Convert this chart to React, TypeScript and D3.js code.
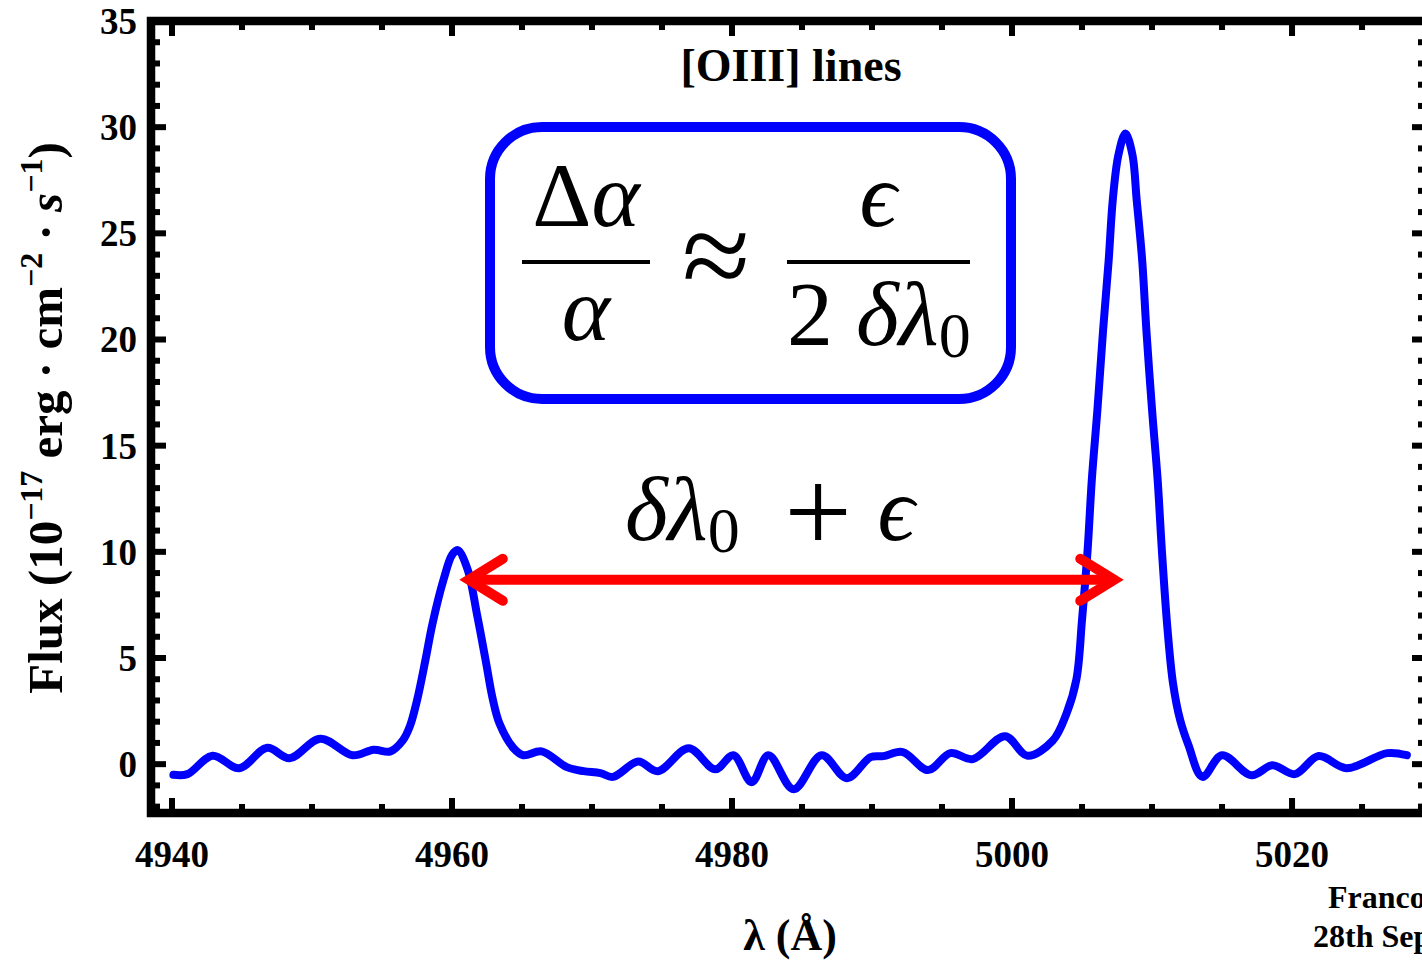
import React from 'react';
import * as d3 from 'd3';

// ---------- data ----------
const wavelength = [
  4940.1, 4941.1, 4942.9, 4944.8, 4946.8, 4948.4, 4950.6, 4952.9, 4954.4, 4955.6,
  4956.5, 4957.0, 4957.5, 4958.1, 4958.6, 4959.4, 4960.0, 4960.4, 4961.1, 4961.8,
  4962.4, 4962.9, 4963.4, 4964.4, 4965.1, 4966.4, 4968.2, 4969.4, 4970.6, 4971.5,
  4973.3, 4974.7, 4976.9, 4978.8, 4980.1, 4981.4, 4982.6, 4984.4, 4986.4, 4988.2,
  4989.9, 4990.8, 4992.2, 4994.0, 4995.6, 4997.2, 4999.5, 5001.1, 5002.9, 5003.9,
  5004.6, 5005.0, 5005.4, 5005.7, 5006.1, 5006.5, 5006.9, 5007.2, 5007.6, 5008.1,
  5008.6, 5008.9, 5009.3, 5009.6, 5010.0, 5010.4, 5010.7, 5011.1, 5011.5, 5012.0,
  5012.6, 5013.6, 5015.0, 5017.1, 5018.6, 5020.2, 5021.9, 5023.9, 5026.8, 5028.2,
];
const flux = [
  -0.5, -0.47, 0.4, -0.19, 0.77, 0.28, 1.2, 0.42, 0.68, 0.6,
  1.13, 1.8, 3.0, 4.9, 6.6, 8.7, 9.85, 10.08, 9.2, 7.0,
  4.9, 3.1, 1.9, 0.75, 0.42, 0.6, -0.14, -0.33, -0.42, -0.6,
  0.12, -0.33, 0.75, -0.24, 0.42, -0.85, 0.42, -1.18, 0.42, -0.66,
  0.33, 0.38, 0.57, -0.28, 0.52, 0.24, 1.32, 0.4, 1.1, 2.4,
  4.0, 6.8, 10.1, 13.4, 16.7, 20.4, 23.7, 26.6, 28.7, 29.7,
  28.7, 26.6, 23.7, 20.4, 16.7, 13.4, 10.1, 6.4, 3.8, 2.1,
  0.9, -0.6, 0.42, -0.52, -0.05, -0.47, 0.38, -0.19, 0.52, 0.42,
];
const xMajorTicks = [4940, 4960, 4980, 5000, 5020];
const xMinorTicks = [4945, 4950, 4955, 4965, 4970, 4975, 4985, 4990, 4995, 5005, 5010, 5015, 5025];
const yMajorTicks = [0, 5, 10, 15, 20, 25, 30, 35];
const yMinorTicks = [-2, -1, 1, 2, 3, 4, 6, 7, 8, 9, 11, 12, 13, 14, 16, 17, 18, 19, 21, 22, 23, 24, 26, 27, 28, 29, 31, 32, 33, 34];
const xDomain = [4938.5, 5029.64];
const yDomain = [-2.3, 35];
const arrowFrom = 4961.2;
const arrowTo = 5007.3;
const arrowLevel = 8.68;
const titleText = '[OIII] lines';
const footerLines = ['Franco', '28th Sep'];

// ---------- layout ----------
const W = 1422;
const H = 963;
const L = 151, R = 1427, T = 21, B = 813;
const SERIF = "'Liberation Serif', 'Times New Roman', serif";

export default function App() {
  const x = d3.scaleLinear().domain(xDomain).range([L, R]);
  const y = d3.scaleLinear().domain(yDomain).range([B, T]);
  const pts: [number, number][] = wavelength.map((w, i) => [w, flux[i]]);
  const line = d3
    .line<[number, number]>()
    .x((d) => x(d[0]))
    .y((d) => y(d[1]))
    .curve(d3.curveCatmullRom.alpha(0.5));

  const tickW = 6;
  const majLen = 15;
  const minLen = 9;

  const ax1 = x(arrowFrom);
  const ax2 = x(arrowTo);
  const ay = y(arrowLevel);
  const bdx = 34;
  const bdy = 21;

  return (
    <svg
      width={W}
      height={H}
      style={{ position: 'absolute', left: 0, top: 0, background: '#fff' }}
      fontFamily={SERIF}
    >
      <rect x={0} y={0} width={W} height={H} fill="#fff" />

      {/* curve */}
      <path d={line(pts) || ''} fill="none" stroke="#0000ff" strokeWidth={8} strokeLinejoin="round" strokeLinecap="round" />

      {/* frame */}
      <rect x={L} y={T} width={R - L} height={B - T} fill="none" stroke="#000" strokeWidth={8.5} />

      {/* ticks */}
      <g stroke="#000" strokeWidth={tickW}>
        {xMajorTicks.map((v) => (
          <g key={'xM' + v}>
            <line x1={x(v)} x2={x(v)} y1={B} y2={B - majLen} />
            <line x1={x(v)} x2={x(v)} y1={T} y2={T + majLen} />
          </g>
        ))}
        {xMinorTicks.map((v) => (
          <g key={'xm' + v}>
            <line x1={x(v)} x2={x(v)} y1={B} y2={B - minLen} />
            <line x1={x(v)} x2={x(v)} y1={T} y2={T + minLen} />
          </g>
        ))}
        {yMajorTicks.map((v) => (
          <g key={'yM' + v}>
            <line x1={L} x2={L + majLen} y1={y(v)} y2={y(v)} />
            <line x1={R} x2={R - majLen} y1={y(v)} y2={y(v)} />
          </g>
        ))}
        {yMinorTicks.map((v) => (
          <g key={'ym' + v}>
            <line x1={L} x2={L + minLen} y1={y(v)} y2={y(v)} />
            <line x1={R} x2={R - minLen} y1={y(v)} y2={y(v)} />
          </g>
        ))}
      </g>

      {/* tick labels */}
      <g fontWeight="bold" fontSize={37} fill="#000">
        {xMajorTicks.map((v) => (
          <text key={'xl' + v} x={x(v)} y={867} textAnchor="middle">
            {v}
          </text>
        ))}
        {yMajorTicks.map((v) => (
          <text key={'yl' + v} x={137} y={y(v)} dy="0.35em" textAnchor="end">
            {v}
          </text>
        ))}
      </g>

      {/* title */}
      <text x={791} y={81} textAnchor="middle" fontWeight="bold" fontSize={46}>
        {titleText}
      </text>

      {/* axis titles */}
      <text x={790} y={950} textAnchor="middle" fontWeight="bold" fontSize={44}>
        {'λ (Å)'}
      </text>
      <text transform="translate(62,418) rotate(-90)" textAnchor="middle" fontWeight="bold" fontSize={49}>
        <tspan>{'Flux (10'}</tspan>
        <tspan dy={-20} fontSize={32}>{'−17'}</tspan>
        <tspan dy={20}>{' erg · cm'}</tspan>
        <tspan dy={-20} fontSize={32}>{'−2'}</tspan>
        <tspan dy={20}>{' · '}</tspan>
        <tspan fontStyle="italic">{'s'}</tspan>
        <tspan dy={-20} fontSize={32}>{'−1'}</tspan>
        <tspan dy={20}>{')'}</tspan>
      </text>

      {/* footer */}
      <text x={1328} y={908} fontWeight="bold" fontSize={32}>{footerLines[0]}</text>
      <text x={1313} y={947} fontWeight="bold" fontSize={32}>{footerLines[1]}</text>

      {/* formula box */}
      <rect x={490} y={127} width={521} height={272} rx={52} ry={52} fill="#fff" stroke="#0000ff" strokeWidth={10} />
      <g fill="#000" fontSize={92}>
        <text x={586} y={226} textAnchor="middle">
          <tspan>{'Δ'}</tspan>
          <tspan fontStyle="italic">{'α'}</tspan>
        </text>
        <line x1={522} x2={650} y1={262} y2={262} stroke="#000" strokeWidth={4} />
        <text x={586} y={340} textAnchor="middle" fontStyle="italic">{'α'}</text>
        <text x={716} y={297} textAnchor="middle" fontSize={124}>{'≈'}</text>
        <text x={878} y={226} textAnchor="middle" fontStyle="italic">{'ϵ'}</text>
        <line x1={787} x2={970} y1={262} y2={262} stroke="#000" strokeWidth={4} />
        <text x={787} y={345}>
          <tspan>{'2 '}</tspan>
          <tspan fontStyle="italic">{'δλ'}</tspan>
          <tspan fontSize={64} dy={12}>{'0'}</tspan>
        </text>
      </g>

      {/* lower expression */}
      <g fill="#000" fontSize={92}>
        <text x={625} y={540}>
          <tspan fontStyle="italic">{'δλ'}</tspan>
          <tspan fontSize={64} dy={12}>{'0'}</tspan>
        </text>
        <text x={818} y={552} textAnchor="middle" fontSize={120}>{'+'}</text>
        <text x={896} y={540} textAnchor="middle" fontStyle="italic">{'ϵ'}</text>
      </g>

      {/* arrow */}
      <g stroke="#ff0000" strokeWidth={10} fill="none" strokeLinecap="round" strokeLinejoin="miter">
        <line x1={ax1 + 6} x2={ax2 - 6} y1={ay} y2={ay} strokeLinecap="butt" />
        <path d={`M${ax1 + bdx},${ay - bdy}L${ax1},${ay}L${ax1 + bdx},${ay + bdy}`} />
        <path d={`M${ax2 - bdx},${ay - bdy}L${ax2},${ay}L${ax2 - bdx},${ay + bdy}`} />
      </g>
    </svg>
  );
}
